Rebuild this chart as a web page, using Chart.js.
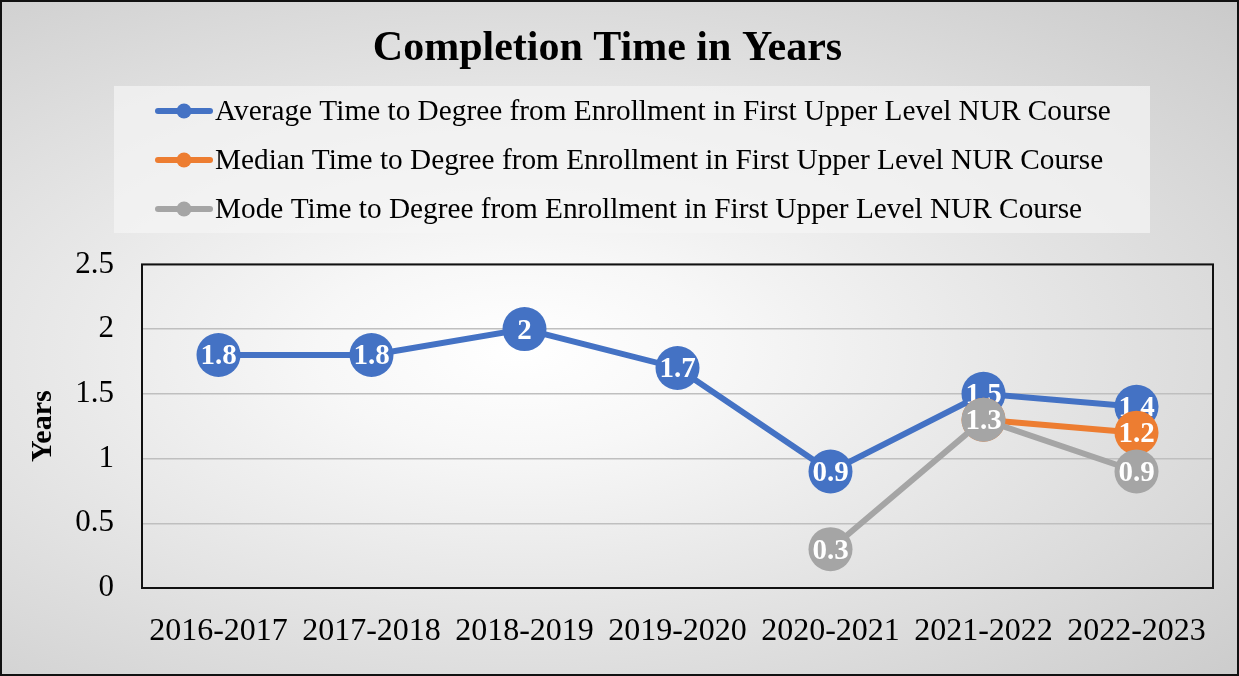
<!DOCTYPE html>
<html>
<head>
<meta charset="utf-8">
<script src="https://cdn.jsdelivr.net/npm/chart.js@4"></script>
<style>
  html, body { margin: 0; padding: 0; }
  #wrap {
    width: 1239px; height: 676px; box-sizing: border-box;
    border: 2px solid #111;
    background: radial-gradient(ellipse farthest-corner at 42% 52%, #ffffff 0%, #f7f7f7 20%, #cacaca 100%);
  }
</style>
</head>
<body>
<div id="wrap"><canvas id="chart"></canvas></div>
<script>
  const years = ['2016-2017', '2017-2018', '2018-2019', '2019-2020', '2020-2021', '2021-2022', '2022-2023'];
  const averageTime = [1.8, 1.8, 2, 1.7, 0.9, 1.5, 1.4];
  const medianTime = [null, null, null, null, null, 1.3, 1.2];
  const modeTime = [null, null, null, null, 0.3, 1.3, 0.9];
  const seriesNames = [
    'Average Time to Degree from Enrollment in First Upper Level NUR Course',
    'Median Time to Degree from Enrollment in First Upper Level NUR Course',
    'Mode Time to Degree from Enrollment in First Upper Level NUR Course'
  ];
  const colors = ['#4472C4', '#ED7D31', '#A5A5A5'];

  const SERIF = '"Liberation Serif", "Times New Roman", serif';

  // white value labels drawn right after each series, so later series can cover them
  const pointLabels = {
    id: 'pointLabels',
    afterDatasetDraw(chart, args) {
      const ctx = chart.ctx;
      const ds = chart.data.datasets[args.index];
      ctx.save();
      ctx.font = 'bold 29px ' + SERIF;
      ctx.fillStyle = '#fff';
      ctx.textAlign = 'center';
      ctx.textBaseline = 'middle';
      args.meta.data.forEach((pt, i) => {
        const v = ds.data[i];
        if (v === null || v === undefined) return;
        ctx.fillText(String(v), pt.x, pt.y + 2);
      });
      ctx.restore();
    }
  };

  // plot frame
  const plotFrame = {
    id: 'plotFrame',
    beforeDatasetsDraw(chart) {
      const { ctx, chartArea: a } = chart;
      ctx.save();
      ctx.strokeStyle = '#111';
      ctx.lineWidth = 2;
      ctx.strokeRect(a.left, a.top, a.right - a.left, a.bottom - a.top);
      ctx.restore();
    }
  };

  // legend panel with stacked entries
  const legendPanel = {
    id: 'legendPanel',
    afterDraw(chart) {
      const ctx = chart.ctx;
      ctx.save();
      ctx.fillStyle = 'rgba(245,245,245,0.7)';
      ctx.fillRect(112, 84, 1036, 147);
      ctx.font = '29.3px ' + SERIF;
      ctx.textBaseline = 'middle';
      ctx.textAlign = 'left';
      chart.data.datasets.forEach((ds, i) => {
        const y = 109 + i * 49;
        ctx.strokeStyle = ds.borderColor;
        ctx.lineWidth = 6;
        ctx.lineCap = 'round';
        ctx.beginPath();
        ctx.moveTo(156, y);
        ctx.lineTo(208, y);
        ctx.stroke();
        ctx.fillStyle = ds.borderColor;
        ctx.beginPath();
        ctx.arc(182, y, 7.5, 0, Math.PI * 2);
        ctx.fill();
        ctx.fillStyle = '#000';
        ctx.fillText(ds.label, 213, y + 1);
      });
      ctx.restore();
    }
  };

  function makeSeries(i, data, order) {
    return {
      label: seriesNames[i],
      data: data,
      borderColor: colors[i],
      backgroundColor: colors[i],
      borderWidth: 6,
      pointRadius: 22,
      pointHoverRadius: 22,
      pointBorderWidth: 0,
      tension: 0,
      spanGaps: false,
      order: order
    };
  }

  new Chart(document.getElementById('chart').getContext('2d'), {
    type: 'line',
    data: {
      labels: years,
      datasets: [
        makeSeries(0, averageTime, 3),
        makeSeries(1, medianTime, 2),
        makeSeries(2, modeTime, 1)
      ]
    },
    options: {
      responsive: true,
      maintainAspectRatio: false,
      animation: false,
      events: [],
      layout: { padding: { top: 0, right: 24, bottom: 0, left: 0 } },
      plugins: {
        legend: { display: false },
        tooltip: { enabled: false },
        title: {
          display: true,
          text: 'Completion Time in Years',
          color: '#000',
          font: { family: SERIF, size: 42, weight: 'bold' },
          padding: { top: 22, bottom: 190 }
        }
      },
      scales: {
        x: {
          offset: true,
          grid: { display: false },
          border: { display: false },
          ticks: { color: '#000', font: { family: SERIF, size: 32 }, padding: 16, maxRotation: 0, autoSkip: false },
          afterFit(scale) { scale.height = 86; }
        },
        y: {
          min: 0,
          max: 2.5,
          grid: { color: '#bfbfbf', lineWidth: 1.5, drawTicks: false },
          border: { display: false },
          ticks: {
            stepSize: 0.5, color: '#000', font: { family: SERIF, size: 31 }, padding: 28,
            callback: v => String(Math.round(v * 10) / 10)
          },
          title: {
            display: true,
            text: 'Years',
            color: '#000',
            font: { family: SERIF, size: 30, weight: 'bold' },
            padding: { top: 23, bottom: 0 }
          },
          afterFit(scale) { scale.width = 140; }
        }
      }
    },
    plugins: [plotFrame, pointLabels, legendPanel]
  });
</script>
</body>
</html>
